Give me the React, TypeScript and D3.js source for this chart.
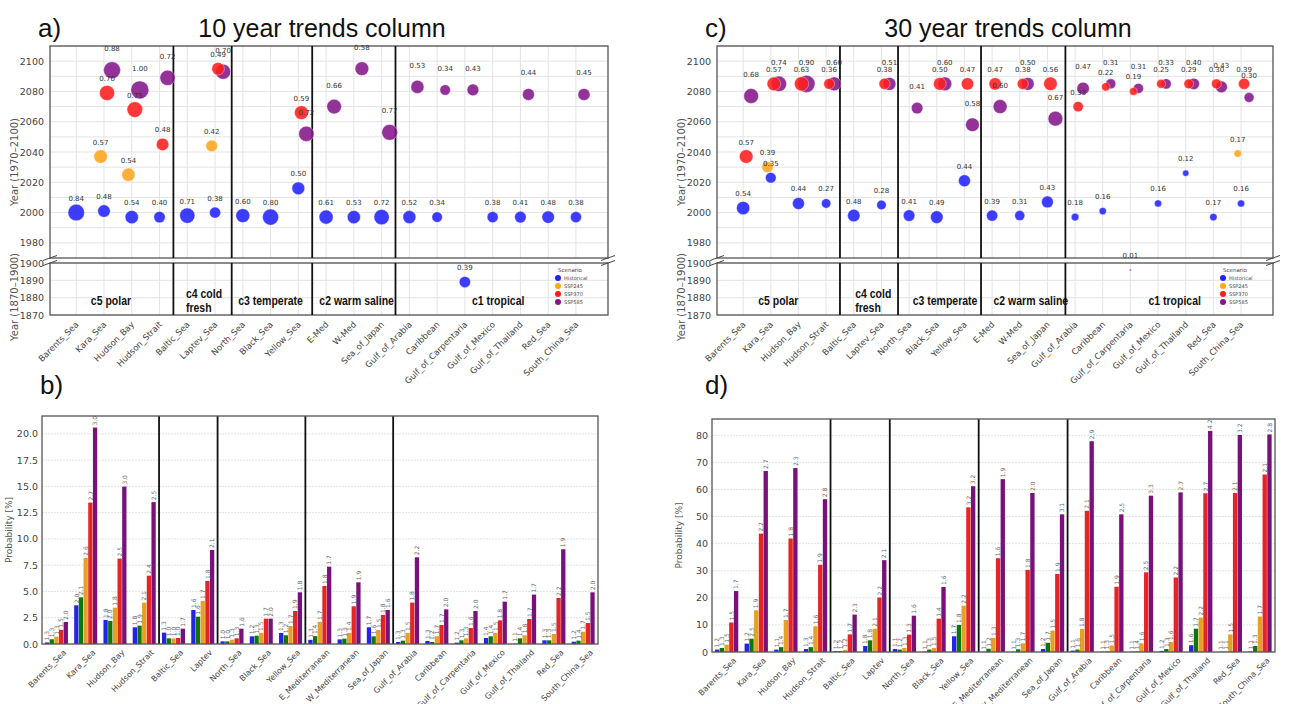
import React from 'react';
import * as d3 from 'd3';

// categories
const seas = ['Barents_Sea', 'Kara_Sea', 'Hudson_Bay', 'Hudson_Strait', 'Baltic_Sea', 'Laptev_Sea', 'North_Sea', 'Black_Sea', 'Yellow_Sea', 'E-Med', 'W-Med', 'Sea_of_Japan', 'Gulf_of_Arabia', 'Caribbean', 'Gulf_of_Carpentaria', 'Gulf_of_Mexico', 'Gulf_of_Thailand', 'Red_Sea', 'South_China_Sea'];
const barSeas = ['Barents_Sea', 'Kara_Sea', 'Hudson_Bay', 'Hudson_Strait', 'Baltic_Sea', 'Laptev', 'North_Sea', 'Black_Sea', 'Yellow_Sea', 'E_Mediterranean', 'W_Mediterranean', 'Sea_of_Japan', 'Gulf_of_Arabia', 'Caribbean', 'Gulf_of_Carpentaria', 'Gulf_of_Mexico', 'Gulf_of_Thailand', 'Red_Sea', 'South_China_Sea'];
const regions = ['c5 polar', 'c4 cold\nfresh', 'c3 temperate', 'c2 warm saline', 'c1 tropical'];
const scenarios = ['Historical', 'SSP245', 'SSP370', 'SSP585'];
const barSeries = ['Historical', 'SSP126', 'SSP245', 'SSP370', 'SSP585'];

// a) 10 year trends: year and size value per scenario
const a10HistYear = [2000, 2001, 1997, 1997, 1998, 2000, 1998, 1997, 2016, 1997, 1997, 1997, 1997, 1997, 1889, 1997, 1997, 1997, 1997];
const a10HistVal = [0.84, 0.48, 0.54, 0.40, 0.71, 0.38, 0.60, 0.80, 0.50, 0.61, 0.53, 0.72, 0.52, 0.34, 0.39, 0.38, 0.41, 0.48, 0.38];
const a10S245Year = [null, 2037, 2025, null, null, 2044, null, null, null, null, null, null, null, null, null, null, null, null, null];
const a10S245Val = [null, 0.57, 0.54, null, null, 0.42, null, null, null, null, null, null, null, null, null, null, null, null, null];
const a10S370Year = [null, 2079, 2068, 2045, null, 2095, null, null, 2066, null, null, null, null, null, null, null, null, null, null];
const a10S370Val = [null, 0.70, 0.75, 0.48, null, 0.49, null, null, 0.59, null, null, null, null, null, null, null, null, null, null];
const a10S585Year = [null, 2094, 2081, 2089, null, 2093, null, null, 2052, 2070, 2095, 2053, 2083, 2081, 2081, null, 2078, null, 2078];
const a10S585Val = [null, 0.88, 1.00, 0.72, null, 0.70, null, null, 0.72, 0.66, 0.58, 0.77, 0.53, 0.34, 0.43, null, 0.44, null, 0.45];

// c) 30 year trends
const c30HistYear = [2003, 2023, 2006, 2006, 1998, 2005, 1998, 1997, 2021, 1998, 1998, 2007, 1997, 2001, 1896, 2006, 2026, 1997, 2006];
const c30HistVal = [0.54, 0.35, 0.44, 0.27, 0.48, 0.28, 0.41, 0.49, 0.44, 0.39, 0.31, 0.43, 0.18, 0.16, 0.01, 0.16, 0.12, 0.17, 0.16];
const c30S245Year = [null, 2030, null, null, null, null, null, null, null, null, null, null, null, null, null, null, null, null, 2039];
const c30S245Val = [null, 0.39, null, null, null, null, null, null, null, null, null, null, null, null, null, null, null, null, 0.17];
const c30S370Year = [2037, 2085, 2085, 2085, null, 2085, null, 2085, 2085, 2085, 2085, 2085, 2070, 2083, 2080, 2085, 2085, 2085, 2085];
const c30S370Val = [0.57, 0.57, 0.63, 0.36, null, 0.38, null, 0.50, 0.47, 0.47, 0.38, 0.56, 0.33, 0.22, 0.19, 0.25, 0.29, 0.30, 0.39];
const c30S585Year = [2077, 2085, 2085, 2085, null, 2085, 2069, 2085, 2058, 2070, 2085, 2062, 2082, 2085, 2082, 2085, 2085, 2083, 2076];
const c30S585Val = [0.68, 0.74, 0.90, 0.60, null, 0.51, 0.41, 0.60, 0.58, 0.60, 0.50, 0.67, 0.47, 0.31, 0.31, 0.33, 0.40, 0.43, 0.30];

// b) probability, 10 year
const bHist = [0.15, 3.68, 2.29, 1.59, 1.08, 3.24, 0.25, 0.73, 1.05, 0.40, 0.44, 1.59, 0.19, 0.29, 0.13, 0.57, 0.02, 0.35, 0.22];
const bS126 = [0.45, 4.44, 2.19, 1.75, 0.54, 2.60, 0.25, 0.79, 0.83, 0.75, 0.51, 0.73, 0.32, 0.19, 0.35, 0.73, 0.54, 0.35, 0.32];
const bS245 = [0.70, 8.20, 3.46, 3.94, 0.54, 4.10, 0.41, 1.05, 1.71, 2.10, 1.05, 1.33, 1.05, 0.73, 0.54, 1.05, 0.83, 0.95, 1.17];
const bS370 = [1.35, 13.46, 8.13, 6.50, 0.57, 6.00, 0.54, 2.41, 3.14, 5.52, 3.59, 2.76, 3.94, 1.81, 1.52, 2.25, 2.38, 4.38, 2.00];
const bS585 = [2.10, 20.60, 14.98, 13.50, 1.46, 8.95, 1.46, 2.41, 4.92, 7.36, 5.87, 3.24, 8.25, 3.30, 3.14, 4.03, 4.70, 9.02, 4.92];
const bLabHist = [1.3, 2.0, 1.8, 1.8, 1.3, 1.6, 1.0, 1.2, 1.3, 1.3, 1.3, 1.7, 1.3, 1.3, 1.2, 1.4, 1.1, 1.3, 1.2];
const bLab126 = [1.3, 2.1, 2.0, 1.9, 1.0, 1.6, 1.0, 1.3, 1.2, 1.4, 1.3, 1.6, 1.3, 1.2, 1.3, 1.4, 1.4, 1.3, 1.4];
const bLab245 = [1.3, 2.6, 1.8, 2.1, 1.0, 1.7, 1.3, 1.5, 1.7, 1.7, 1.4, 1.5, 1.5, 1.7, 1.3, 1.5, 1.8, 1.5, 1.7];
const bLab370 = [1.5, 2.7, 2.5, 2.4, 1.0, 1.8, 1.3, 1.7, 1.9, 1.8, 1.9, 1.8, 1.8, 1.7, 1.6, 1.8, 1.7, 2.2, 1.5];
const bLab585 = [2.0, 3.0, 3.0, 2.5, 1.7, 2.1, 1.6, 2.0, 1.8, 1.7, 1.9, 1.6, 2.2, 2.0, 2.0, 1.7, 1.7, 1.9, 2.0];
const bTicks = [0, 2.5, 5, 7.5, 10, 12.5, 15, 17.5, 20];

// d) probability, 30 year
const dHist = [0.9, 3.1, 0.9, 1.1, 0.3, 2.2, 1.1, 0.1, 5.8, 0.1, 0.1, 1.1, 0.5, 0.1, 0.1, 0.4, 2.5, 0.1, 0.2];
const dS126 = [1.5, 4.9, 1.8, 1.8, 0.3, 4.3, 0.9, 0.9, 10.0, 1.2, 1.0, 3.4, 0.9, 0.2, 0.2, 1.1, 8.6, 0.1, 2.2];
const dS245 = [2.7, 15.4, 11.8, 9.5, 0.8, 8.6, 1.5, 1.5, 17.1, 5.2, 3.2, 7.9, 8.5, 2.4, 3.2, 3.7, 12.7, 6.5, 13.1];
const dS370 = [10.9, 43.7, 41.9, 32.2, 6.5, 20.1, 6.4, 12.3, 53.4, 34.6, 30.3, 28.8, 52.1, 24.1, 29.4, 27.5, 58.6, 58.7, 65.5];
const dS585 = [22.5, 66.8, 67.9, 56.4, 13.8, 33.9, 13.4, 24.0, 61.2, 63.8, 58.7, 50.8, 77.8, 50.8, 57.7, 58.9, 81.6, 80.1, 80.3];
const dLabHist = [1.2, 1.2, 1.1, 1.3, 1.2, 1.8, 1.1, 1.1, 1.7, 1.1, 1.1, 1.2, 1.1, 1.1, 1.1, 1.2, 1.6, 1.1, 1.1];
const dLab126 = [1.3, 2.5, 1.4, 1.4, 1.2, 1.8, 1.2, 1.3, 1.8, 1.2, 1.3, 1.7, 1.6, 1.3, 1.4, 1.3, 1.7, 1.1, 1.3];
const dLab245 = [1.5, 1.9, 1.7, 1.6, 1.2, 2.1, 1.3, 1.5, 2.2, 1.3, 1.7, 1.5, 1.8, 1.5, 1.6, 1.6, 2.2, 1.5, 1.7];
const dLab370 = [1.5, 2.2, 1.8, 1.9, 1.7, 2.2, 1.3, 1.4, 3.2, 1.6, 1.8, 1.9, 2.1, 1.9, 2.5, 2.2, 2.7, 2.1, 2.1];
const dLab585 = [1.7, 2.7, 2.3, 2.8, 2.3, 2.1, 1.6, 1.6, 3.2, 1.9, 2.0, 3.1, 2.9, 2.5, 3.3, 2.7, 4.2, 3.2, 2.8];
const dTicks = [0, 10, 20, 30, 40, 50, 60, 70, 80];

const FONT = 'DejaVu Sans, sans-serif';
const TITLE_FONT = 'Liberation Sans, Arial, sans-serif';
const dotColors = ['#2222ff', '#ffa51f', '#ff1c1c', '#84168a'];
const dotShift = [0, -0.12, 0.11, 0.29];
const barColors = ['#2424e6', '#0d760d', '#e6a024', '#e62424', '#78127a'];
const sepAfter = [3, 5, 8, 11];

type Scen = { years: (number | null)[]; vals: (number | null)[] };

function ScatterPanel({ left, right, data, sepPos, regionPos }: { left: number; right: number; data: Scen[]; sepPos: number[]; regionPos: number[] }) {
  const top = 46, upBottom = 258, lowTop = 263, lowBottom = 315;
  const x = d3.scalePoint<string>().domain(seas).range([left, right]).padding(1.05).align(0.45);
  const step = x.step();
  const x0 = x(seas[0])!;
  const yU = d3.scaleLinear().domain([1970, 2110]).range([upBottom, top]);
  const yL = d3.scaleLinear().domain([1870, 1900]).range([lowBottom, lowTop]);
  const r = (v: number) => 9 * Math.sqrt(v);
  const order = [3, 1, 2, 0];
  const brk = (px: number, py: number, k: string) => <line key={k} x1={px - 7} y1={py + 2.5} x2={px + 7} y2={py - 2.5} stroke="#444" strokeWidth={1} />;
  return (
    <g fontFamily={FONT}>
      {/* grid */}
      {d3.range(1980, 2111, 10).map(t => <line key={'gu' + t} x1={left} x2={right} y1={yU(t)} y2={yU(t)} stroke="#e4e4e4" />)}
      {d3.range(1870, 1901, 10).map(t => <line key={'gl' + t} x1={left} x2={right} y1={yL(t)} y2={yL(t)} stroke="#e4e4e4" />)}
      {seas.map(s => <g key={'gv' + s}>
        <line x1={x(s)} x2={x(s)} y1={top} y2={upBottom} stroke="#e4e4e4" />
        <line x1={x(s)} x2={x(s)} y1={lowTop} y2={lowBottom} stroke="#e4e4e4" />
      </g>)}
      {/* frames */}
      <rect x={left} y={top} width={right - left} height={upBottom - top} fill="none" stroke="#555" strokeWidth={1.3} />
      <rect x={left} y={lowTop} width={right - left} height={lowBottom - lowTop} fill="none" stroke="#555" strokeWidth={1.3} />
      {brk(left, upBottom, 'b1')}{brk(right, upBottom, 'b2')}{brk(left, lowTop, 'b3')}{brk(right, lowTop, 'b4')}
      {/* separators */}
      {sepPos.map((p, i) => <g key={'sep' + i}>
        <line x1={x0 + p * step} x2={x0 + p * step} y1={top} y2={upBottom} stroke="#111" strokeWidth={1.8} />
        <line x1={x0 + p * step} x2={x0 + p * step} y1={lowTop} y2={lowBottom} stroke="#111" strokeWidth={1.8} />
      </g>)}
      {/* y ticks */}
      {d3.range(1980, 2101, 20).map(t => <text key={'tu' + t} x={left - 6} y={yU(t) + 3.5} textAnchor="end" fontSize={9.5} fill="#444">{t}</text>)}
      {d3.range(1870, 1901, 10).map(t => <text key={'tl' + t} x={left - 6} y={yL(t) + 3.5} textAnchor="end" fontSize={9.5} fill="#444">{t}</text>)}
      <text transform={`translate(${left - 32},${(top + upBottom) / 2 + 10}) rotate(-90)`} textAnchor="middle" fontSize={10} fill="#555">Year (1970–2100)</text>
      <text transform={`translate(${left - 32},${(lowTop + lowBottom) / 2 + 8}) rotate(-90)`} textAnchor="middle" fontSize={10} fill="#555">Year (1870–1900)</text>
      {/* region labels */}
      {regions.map((t, i) => {
        const lines = t.split('\n');
        const rx = x0 + regionPos[i] * step;
        return <g key={'rg' + i} transform={`translate(${rx},${lines.length > 1 ? 298 : 305}) scale(0.84,1)`}>
          <text x={0} y={0} textAnchor={lines.length > 1 ? 'start' : 'middle'} fontSize={12.5} fontWeight="bold" fontFamily="Liberation Sans, Arial, sans-serif" fill="#111">
            {lines.map((l, j) => <tspan key={j} x={0} dy={j === 0 ? 0 : 14}>{l}</tspan>)}
          </text>
        </g>;
      })}
      {/* points */}
      {order.map(k => data[k].years.map((yr, i) => {
        const v = data[k].vals[i];
        if (yr == null || v == null) return null;
        const cx = x(seas[i])! + dotShift[k] * step;
        const cy = yr < 1950 ? yL(yr) : yU(yr);
        return <circle key={'p' + k + '-' + i} cx={cx} cy={cy} r={r(v)} fill={dotColors[k]} fillOpacity={0.88} stroke="#fff" strokeOpacity={0.6} strokeWidth={0.6} />;
      }))}
      {order.map(k => data[k].years.map((yr, i) => {
        const v = data[k].vals[i];
        if (yr == null || v == null) return null;
        const cx = x(seas[i])! + dotShift[k] * step;
        const cy = yr < 1950 ? yL(yr) : yU(yr);
        return <text key={'l' + k + '-' + i} x={cx} y={cy - (k === 3 ? 19 : 12)} textAnchor="middle" fontSize={7} fill="#333">{v.toFixed(2)}</text>;
      }))}
      {/* legend */}
      <g transform={`translate(${right - 50},${lowTop + 9})`}>
        <text x={12} y={0} textAnchor="middle" fontSize={5.5} fill="#444">Scenario</text>
        {scenarios.map((s, i) => <g key={s} transform={`translate(0,${8 + i * 8})`}>
          <circle cx={0} cy={-2} r={3} fill={dotColors[i]} />
          <text x={6} y={0} fontSize={5} fill="#444">{s}</text>
        </g>)}
      </g>
      {/* x labels */}
      {seas.map(s => <text key={'xl' + s} transform={`translate(${x(s)! + 3},${lowBottom + 10}) rotate(-45)`} textAnchor="end" fontSize={8.5} fill="#444">{s}</text>)}
    </g>
  );
}

function BarPanel({ left, right, top, bottom, yMax, ticks, fmt, vals, labs }: { left: number; right: number; top: number; bottom: number; yMax: number; ticks: number[]; fmt: (v: number) => string; vals: number[][]; labs: number[][] }) {
  const x = d3.scaleBand<string>().domain(barSeas).range([left, right]).paddingInner(0.2).paddingOuter(0.1);
  const inner = d3.scaleBand<number>().domain(d3.range(barSeries.length)).range([0, x.bandwidth()]);
  const y = d3.scaleLinear().domain([0, yMax]).range([bottom, top]);
  const gap = (x.step() - x.bandwidth()) / 2;
  return (
    <g fontFamily={FONT}>
      {ticks.map(t => <line key={'g' + t} x1={left} x2={right} y1={y(t)} y2={y(t)} stroke="#e2e2e2" strokeDasharray="2,1" />)}
      {ticks.map(t => <text key={'t' + t} x={left - 4} y={y(t) + 3.5} textAnchor="end" fontSize={9.5} fill="#444">{fmt(t)}</text>)}
      {vals.map((ser, k) => ser.map((v, i) => <rect key={'r' + k + '-' + i} x={x(barSeas[i])! + inner(k)!} y={y(v)} width={inner.bandwidth() - 0.4} height={y(0) - y(v)} fill={barColors[k]} />))}
      {labs.map((ser, k) => ser.map((v, i) => {
        const cx = x(barSeas[i])! + inner(k)! + inner.bandwidth() / 2 + 2;
        const cy = y(vals[k][i]) - 2;
        return <text key={'lb' + k + '-' + i} transform={`translate(${cx},${cy}) rotate(-90)`} fontSize={6} fill="#666">{v.toFixed(1)}</text>;
      }))}
      {sepAfter.map(i => {
        const sx = x(barSeas[i])! + x.bandwidth() + gap;
        return <line key={'s' + i} x1={sx} x2={sx} y1={top} y2={bottom} stroke="#111" strokeWidth={1.8} />;
      })}
      <rect x={left} y={top} width={right - left} height={bottom - top} fill="none" stroke="#555" strokeWidth={1.3} />
      <text transform={`translate(${left - 30},${(top + bottom) / 2}) rotate(-90)`} textAnchor="middle" fontSize={9} fill="#555">Probability [%]</text>
      {barSeas.map(s => <text key={'xl' + s} transform={`translate(${x(s)! + x.bandwidth() / 2 + 10},${bottom + 9}) rotate(-45)`} textAnchor="end" fontSize={8} fill="#444">{s}</text>)}
    </g>
  );
}

export default function App() {
  const a10: Scen[] = [
    { years: a10HistYear, vals: a10HistVal },
    { years: a10S245Year, vals: a10S245Val },
    { years: a10S370Year, vals: a10S370Val },
    { years: a10S585Year, vals: a10S585Val },
  ];
  const c30: Scen[] = [
    { years: c30HistYear, vals: c30HistVal },
    { years: c30S245Year, vals: c30S245Val },
    { years: c30S370Year, vals: c30S370Val },
    { years: c30S585Year, vals: c30S585Val },
  ];
  return (
    <div style={{ position: 'absolute', left: 0, top: 0 }}>
      <svg width={1291} height={704} style={{ display: 'block', background: '#fff' }}>
        <g fontFamily={TITLE_FONT} fill="#111">
          <text x={38} y={37} fontSize={26}>a)</text>
          <text x={322} y={37} fontSize={25} textAnchor="middle">10 year trends column</text>
          <text x={705} y={37} fontSize={26}>c)</text>
          <text x={1008} y={37} fontSize={25} textAnchor="middle">30 year trends column</text>
          <text x={40} y={394} fontSize={26}>b)</text>
          <text x={705} y={394} fontSize={26}>d)</text>
        </g>
        <ScatterPanel left={50} right={608} data={a10} sepPos={[3.5, 5.6, 8.5, 11.5]} regionPos={[1.25, 3.95, 7.0, 10.1, 15.2]} />
        <ScatterPanel left={717} right={1273} data={c30} sepPos={[3.5, 5.6, 8.6, 11.65]} regionPos={[1.27, 4.05, 7.3, 10.4, 15.6]} />
        <BarPanel left={42} right={598} top={416} bottom={644} yMax={21.7} ticks={bTicks} fmt={v => v.toFixed(1)}
          vals={[bHist, bS126, bS245, bS370, bS585]} labs={[bLabHist, bLab126, bLab245, bLab370, bLab585]} />
        <BarPanel left={712} right={1275} top={419} bottom={652} yMax={86} ticks={dTicks} fmt={v => String(v)}
          vals={[dHist, dS126, dS245, dS370, dS585]} labs={[dLabHist, dLab126, dLab245, dLab370, dLab585]} />
      </svg>
    </div>
  );
}
